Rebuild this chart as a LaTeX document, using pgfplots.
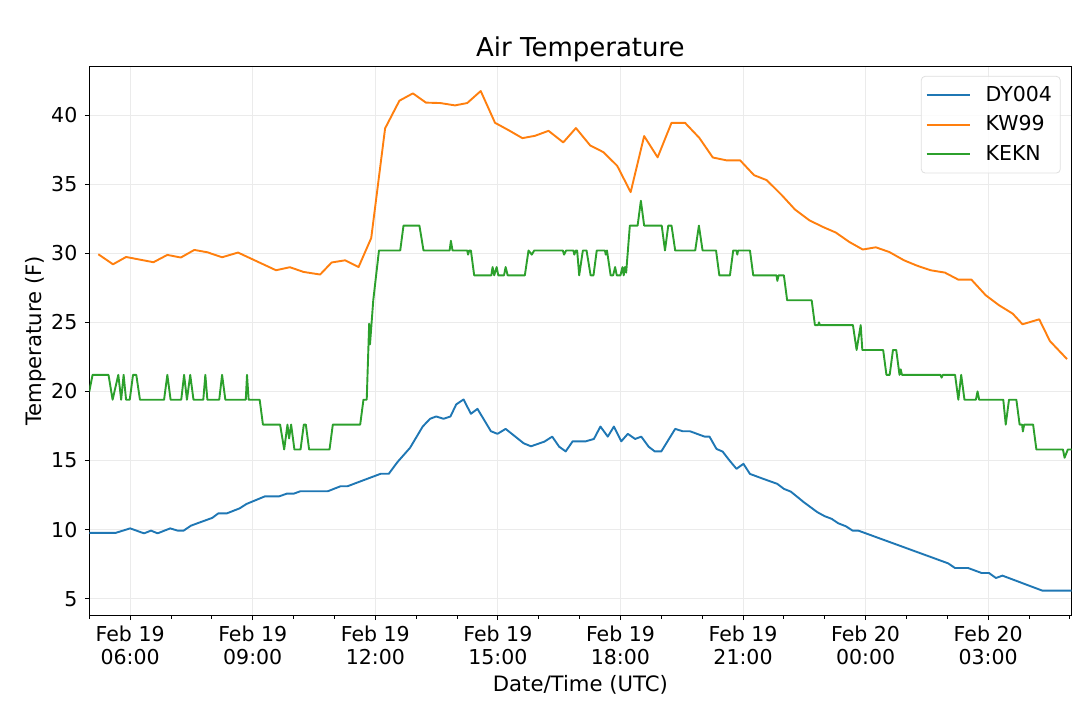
\documentclass[border=0pt]{standalone}
\usepackage{fontspec}
\setmainfont{DejaVu Sans}
\usepackage{pgfplots}
\usepackage{pgfplotstable}
\pgfplotsset{compat=1.18}
\definecolor{c0}{HTML}{1F77B4}
\definecolor{c1}{HTML}{FF7F0E}
\definecolor{c2}{HTML}{2CA02C}
\definecolor{gridc}{HTML}{EBEBEB}

\pgfplotstableread{
h T
5.00 9.76
5.64 9.76
6.00 10.09
6.34 9.73
6.51 9.93
6.67 9.73
6.98 10.09
7.16 9.93
7.31 9.93
7.49 10.29
8.01 10.85
8.16 11.18
8.37 11.18
8.68 11.54
8.85 11.86
9.30 12.41
9.65 12.41
9.84 12.61
10.01 12.61
10.17 12.78
10.84 12.78
11.15 13.14
11.32 13.14
12.13 14.04
12.33 14.04
12.54 14.88
12.85 15.92
13.16 17.46
13.34 18.02
13.49 18.19
13.67 18.02
13.84 18.19
13.98 19.06
14.16 19.42
14.34 18.38
14.50 18.74
14.83 17.12
14.99 16.93
15.19 17.29
15.63 16.25
15.81 16.03
16.14 16.37
16.33 16.73
16.50 16.00
16.66 15.66
16.83 16.39
17.15 16.39
17.35 16.56
17.51 17.46
17.69 16.73
17.84 17.46
18.02 16.39
18.18 16.93
18.36 16.56
18.51 16.73
18.69 16.00
18.84 15.66
19.00 15.66
19.34 17.29
19.52 17.12
19.70 17.12
20.06 16.73
20.18 16.73
20.35 15.84
20.50 15.65
20.67 15.00
20.84 14.40
21.01 14.76
21.17 14.03
21.50 13.67
21.84 13.31
22.00 12.95
22.17 12.75
22.49 11.98
22.82 11.26
23.00 10.97
23.17 10.78
23.33 10.46
23.52 10.24
23.68 9.93
23.82 9.93
26.02 7.56
26.19 7.22
26.51 7.22
26.84 6.86
27.02 6.86
27.19 6.50
27.35 6.67
28.33 5.58
29.04 5.58
}\dyt

\pgfplotstableread{
h T
5.22 29.93
5.58 29.20
5.90 29.73
6.57 29.35
6.91 29.88
7.24 29.69
7.57 30.24
7.89 30.07
8.25 29.71
8.64 30.05
9.57 28.77
9.91 28.99
10.24 28.65
10.65 28.46
10.93 29.33
11.26 29.49
11.59 29.00
11.90 31.10
12.24 39.04
12.59 41.04
12.92 41.57
13.24 40.90
13.59 40.87
13.95 40.70
14.25 40.87
14.58 41.74
14.93 39.44
15.26 38.91
15.60 38.33
15.91 38.50
16.24 38.86
16.60 38.02
16.91 39.06
17.26 37.80
17.58 37.32
17.92 36.33
18.25 34.42
18.58 38.48
18.91 36.94
19.25 39.44
19.58 39.44
19.93 38.35
20.26 36.93
20.60 36.72
20.93 36.72
21.27 35.65
21.58 35.29
21.95 34.20
22.27 33.17
22.62 32.39
22.95 31.91
23.27 31.50
23.60 30.82
23.93 30.27
24.25 30.43
24.58 30.09
24.94 29.49
25.26 29.10
25.59 28.77
25.94 28.60
26.27 28.09
26.59 28.09
26.94 26.96
27.27 26.23
27.60 25.63
27.84 24.86
28.25 25.22
28.51 23.65
28.93 22.34
}\kwt

\pgfplotstableread{
h T
5.00 20.0
5.08 21.2
5.47 21.2
5.57 19.4
5.71 21.2
5.78 19.4
5.84 21.2
5.90 19.4
5.99 19.4
6.07 21.2
6.15 21.2
6.24 19.4
6.83 19.4
6.91 21.2
6.99 19.4
7.25 19.4
7.32 21.2
7.39 19.4
7.47 21.2
7.55 19.4
7.79 19.4
7.84 21.2
7.89 19.4
8.18 19.4
8.25 21.2
8.33 19.4
8.83 19.4
8.86 21.2
8.90 19.4
9.17 19.4
9.25 17.6
9.67 17.6
9.77 15.8
9.85 17.6
9.89 16.6
9.94 17.6
10.02 15.8
10.17 15.8
10.25 17.6
10.30 17.6
10.38 15.8
10.88 15.8
10.96 17.6
11.63 17.6
11.71 19.4
11.79 19.4
11.85 24.9
11.87 23.4
11.95 26.6
12.09 30.2
12.61 30.2
12.69 32.0
13.08 32.0
13.18 30.2
13.82 30.2
13.85 30.9
13.89 30.2
14.25 30.2
14.27 29.9
14.30 30.2
14.34 30.2
14.42 28.4
14.84 28.4
14.87 29.0
14.91 28.4
14.97 29.0
15.01 28.4
15.15 28.4
15.19 29.0
15.24 28.4
15.66 28.4
15.75 30.2
15.83 29.9
15.89 30.2
16.59 30.2
16.62 29.9
16.67 30.2
16.85 30.2
16.87 29.9
16.91 30.2
16.94 30.2
16.99 28.4
17.08 30.2
17.17 30.2
17.27 28.4
17.34 28.4
17.42 30.2
17.62 30.2
17.64 29.9
17.67 30.2
17.76 28.4
17.82 28.4
17.87 29.0
17.91 28.4
18.00 28.4
18.05 29.0
18.08 28.4
18.11 29.0
18.14 28.6
18.23 32.0
18.42 32.0
18.50 33.8
18.58 32.0
19.01 32.0
19.09 30.2
19.17 32.0
19.25 32.0
19.34 30.2
19.83 30.2
19.92 32.0
20.01 30.2
20.34 30.2
20.42 28.4
20.68 28.4
20.76 30.2
20.84 30.2
20.86 29.9
20.88 30.2
21.17 30.2
21.25 28.4
21.82 28.4
21.84 28.0
21.87 28.4
22.00 28.4
22.08 26.6
22.68 26.6
22.76 24.8
22.84 24.8
22.86 25.0
22.88 24.8
23.69 24.8
23.78 23.0
23.88 24.8
23.92 23.0
24.43 23.0
24.51 21.2
24.59 21.2
24.67 23.0
24.75 23.0
24.83 21.2
24.86 21.6
24.89 21.2
25.83 21.2
25.86 21.0
25.89 21.2
26.19 21.2
26.27 19.4
26.34 21.2
26.42 19.4
26.70 19.4
26.74 20.0
26.78 19.4
27.37 19.4
27.43 17.6
27.51 19.4
27.69 19.4
27.77 17.6
27.83 17.6
27.85 17.1
27.88 17.6
28.10 17.6
28.18 15.8
28.83 15.8
28.87 15.2
28.95 15.8
29.04 15.8
}\ekt

\begin{document}
\begin{tikzpicture}
\begin{axis}[
  at={(44.65pt,46.65pt)}, anchor=south west,
  scale only axis, width=491.1pt, height=274.85pt,
  xmin=5.0, xmax=29.04, ymin=3.77, ymax=43.55,
  xtick={6,9,12,15,18,21,24,27},
  minor xtick={5,7,8,10,11,13,14,16,17,19,20,22,23,25,26,28,29},
  xticklabels={{Feb 19\\06:00},{Feb 19\\09:00},{Feb 19\\12:00},{Feb 19\\15:00},{Feb 19\\18:00},{Feb 19\\21:00},{Feb 20\\00:00},{Feb 20\\03:00}},
  xticklabel style={align=center, font=\fontsize{10.25}{11.3}\selectfont, inner sep=1pt, yshift=-1.8pt},
  ytick={5,10,...,40},
  yticklabel style={font=\fontsize{10.25}{12}\selectfont, inner sep=1pt, xshift=-2.6pt},
  /pgf/number format/assume math mode=true,
  tick align=outside, tick pos=left,
  major tick length=2.2pt, minor tick length=1.4pt,
  every tick/.style={black, line width=0.45pt},
  grid=major, major grid style={gridc, line width=0.45pt},
  axis line style={black, line width=0.5pt},
  title={Air Temperature},
  title style={at={(0.5,1)}, anchor=base, yshift=-1.3pt, font=\fontsize{13}{15}\selectfont},
  xlabel={Date/Time (UTC)},
  xlabel style={at={(axis description cs:0.5,-0.1255)}, anchor=center, font=\fontsize{10.6}{12}\selectfont},
  ylabel={Temperature (F)},
  ylabel style={at={(axis description cs:-0.0545,0.5)}, anchor=center, font=\fontsize{10.6}{12}\selectfont},
  legend style={at={(0.989,0.982)}, anchor=north east, draw=gray!25, rounded corners=2pt,
    fill=white, fill opacity=0.8, text opacity=1, font=\fontsize{10.25}{12}\selectfont,
    inner xsep=2.2pt, inner ysep=3pt, row sep=1.6pt},
  legend cell align=left,
  legend image code/.code={\draw[#1, line width=1pt] (0pt,0pt) -- (21.5pt,0pt); \path (27pt,0pt);},
  every axis plot/.append style={line width=0.95pt, line join=round},
]
\addplot[c0] table[x=h,y=T] {\dyt};
\addlegendentry{DY004}
\addplot[c1] table[x=h,y=T] {\kwt};
\addlegendentry{KW99}
\addplot[c2] table[x=h,y=T] {\ekt};
\addlegendentry{KEKN}
\end{axis}
\pgfresetboundingbox
\useasboundingbox (0,0) rectangle (540pt,354.5pt);
\end{tikzpicture}
\end{document}
